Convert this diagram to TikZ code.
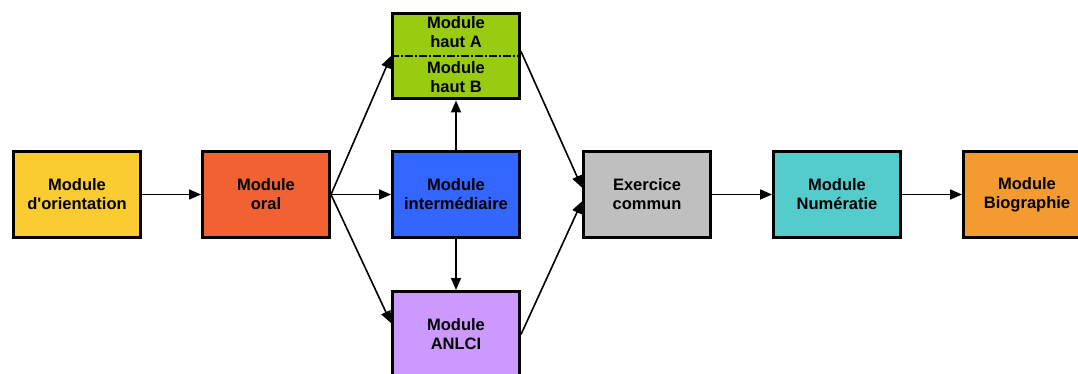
\documentclass[tikz,border=0pt]{standalone}
\usepackage{fontspec}
\setmainfont{Liberation Sans}[Ligatures=TeXOff]
\usetikzlibrary{arrows.meta}
\definecolor{cOrient}{RGB}{250,204,50}
\definecolor{cOral}{RGB}{240,98,50}
\definecolor{cInter}{RGB}{51,102,255}
\definecolor{cHaut}{RGB}{153,204,17}
\definecolor{cAnlci}{RGB}{204,153,255}
\definecolor{cExer}{RGB}{191,191,191}
\definecolor{cNumer}{RGB}{85,204,204}
\definecolor{cBio}{RGB}{243,154,48}
\begin{document}
\begin{tikzpicture}[x=0.02cm, y=-0.02cm,
  modbox/.style={draw=black, line width=0.06cm, minimum width=2.54cm,
    minimum height=1.72cm, align=center, inner sep=0pt,
    font=\fontsize{9.4}{10.9}\selectfont\bfseries},
  modtext/.style={align=center, inner sep=0pt,
    font=\fontsize{9.4}{10.9}\selectfont\bfseries},
  flow/.style={-{Triangle[length=0.24cm,width=0.2cm]}, line width=0.032cm}]
\clip (0,0) rectangle (1078,374);
\fill[white] (0,0) rectangle (1078,374);
% boxes
\node[modbox, fill=cOrient] (orient) at(77,194.5) {Module\\d'orientation};
\node[modbox, fill=cOral] (oral) at(266,194.5) {Module\\oral};
\node[modbox, fill=cInter] (inter) at(456,194.5) {Module\\intermédiaire};
\node[modbox, fill=cHaut] (haut) at(456,56) {};
\node[modtext] (hautA) at(456,32) {Module\\haut A};
\node[modtext] (hautB) at(456,77) {Module\\haut B};
\draw[line width=0.03cm, dash pattern=on 0.16cm off 0.04cm on 0.04cm off 0.04cm]
  (haut.west) -- (haut.east);
\node[modbox, fill=cAnlci] (anlci) at(456,334.5) {Module\\ANLCI};
\node[modbox, fill=cExer] (exer) at(647,194.5) {Exercice\\commun};
\node[modbox, fill=cNumer] (numer) at(837,194.5) {Module\\Numératie};
\node[modbox, fill=cBio] (bio) at(1027,194.5) {Module\\Biographie};
% arrows
\draw[flow] (orient) -- (oral);
\draw[flow] (oral.east) -- (inter.west);
\draw[flow] (oral.east) -- (haut.west);
\draw[flow] (oral.east) -- (anlci.170);
\draw[flow] (inter.north) -- (haut.south);
\draw[flow] (inter.south) -- (anlci.north);
\draw[flow] (haut.4) -- (exer.174);
\draw[flow] (anlci.east) -- (exer.186);
\draw[flow] (exer) -- (numer);
\draw[flow] (numer) -- (bio);
\end{tikzpicture}
\end{document}
